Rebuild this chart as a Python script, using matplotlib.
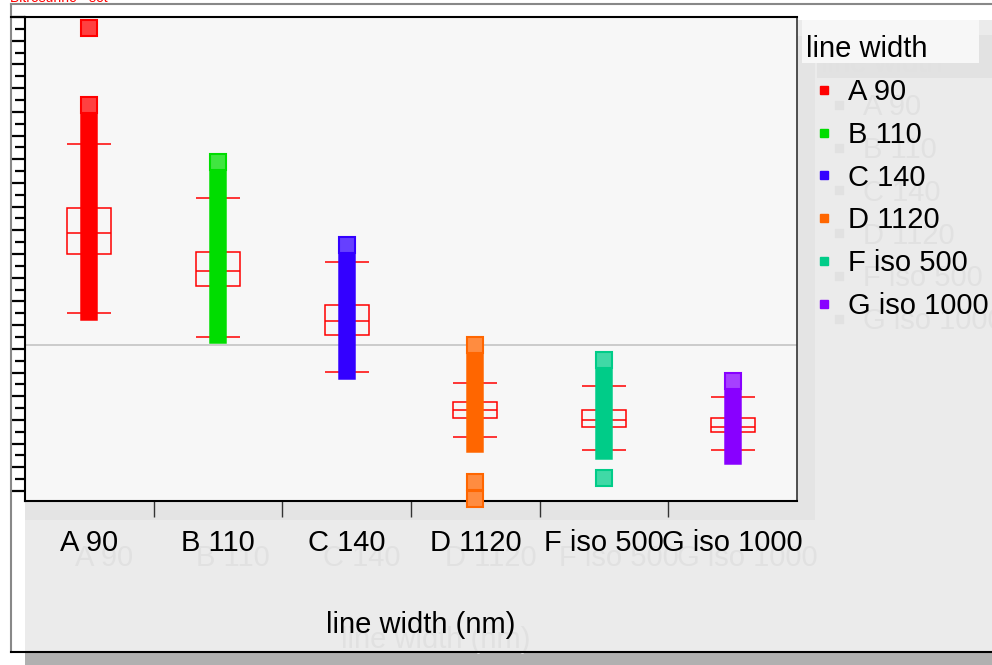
import numpy as np
import matplotlib
matplotlib.use("Agg")
import matplotlib.pyplot as plt
from matplotlib.patches import Rectangle
from matplotlib.lines import Line2D
from matplotlib.transforms import IdentityTransform
from matplotlib.colors import to_rgb

plt.rcParams['font.family'] = ['Liberation Sans', 'DejaVu Sans']

# ---------------- data ----------------
categories = ['A 90', 'B 110', 'C 140', 'D 1120', 'F iso 500', 'G iso 1000']
colors = ['#ff0000', '#00dd00', '#3300ff', '#ff6600', '#00cc88', '#8800ff']
range_lo = [7.57, 6.60, 5.08, 2.00, 1.71, 1.46]
range_hi = [16.27, 13.90, 10.36, 6.18, 5.51, 4.66]
outliers = [[19.54], [], [], [0.38, -0.34], [0.57], []]
whisker_lo = [7.51, 6.50, 5.02, 2.28, 1.73, 1.73]
whisker_hi = [14.64, 12.36, 9.66, 4.56, 4.43, 3.97]
q1 = [10.00, 8.65, 6.58, 3.08, 2.70, 2.49]
median = [10.89, 9.28, 7.17, 3.42, 3.00, 2.70]
q3 = [11.94, 10.08, 7.85, 3.76, 3.42, 3.08]
reference_level = 6.16
legend_title = 'line width'
x_label = 'line width (nm)'
top_note = 'Bitrosurine - set'

W, H = 992, 665
FS = 21
fig = plt.figure(figsize=(W / 100, H / 100), dpi=100)
fig.patch.set_facecolor('white')


def fig_rect(x0, y0, x1, y1, color, z):
    fig.add_artist(Rectangle((x0 / W, 1 - y1 / H), (x1 - x0) / W, (y1 - y0) / H,
                             transform=fig.transFigure, facecolor=color,
                             edgecolor='none', zorder=z))


def fig_line(xs, ys, color, lw, z):
    fig.add_artist(Line2D([v / W for v in xs], [1 - v / H for v in ys],
                          transform=fig.transFigure, color=color, lw=lw, zorder=z))


ghost = '#e1e1e1'

# background panels and shadows
fig_rect(25, 20, 992, 652, '#ebebeb', -5)
fig_rect(25, 36, 815, 520, '#e4e4e4', -4.5)
fig_rect(817, 35, 992, 78, '#e2e2e2', -4.5)
fig_rect(25, 653, 992, 665, '#b0b0b0', -5)
fig_rect(802, 20, 979, 63, '#f7f7f7', 4.5)

# frame lines
fig_line([11, 992], [4, 4], '#888888', 1.5, 1)
fig_line([11, 11], [4, 652], '#888888', 1.5, 1)
fig_line([11, 992], [652, 652], 'black', 1.5, 1)
fig_line([11, 25], [17, 17], 'black', 1.5, 1)

fig.text(10 / W, 1 - 2 / H, top_note, color='red', fontsize=10, va='baseline', ha='left')

# ---------------- axes ----------------
ax = fig.add_axes([25 / W, 1 - 501 / H, 772 / W, 484 / H])
ax.set_facecolor('#f7f7f7')
xpos = np.arange(len(categories))

ax.axhline(reference_level, color='#c4c4c4', lw=1.2, zorder=1)

box_w = 0.34
for i in range(len(categories)):
    ax.add_patch(Rectangle((xpos[i] - box_w / 2, q1[i]), box_w, q3[i] - q1[i],
                           fill=False, ec='red', lw=1.1, zorder=2))
    ax.hlines([whisker_lo[i], median[i], whisker_hi[i]],
              xpos[i] - box_w / 2, xpos[i] + box_w / 2, color='red', lw=1.1, zorder=2)

ax.vlines(xpos, range_lo, range_hi, colors=colors, lw=12.6,
          capstyle='projecting', zorder=3)


def lighter(c, f=0.25):
    r, g, b = to_rgb(c)
    return (r + (1 - r) * f, g + (1 - g) * f, b + (1 - b) * f)


for i, c in enumerate(colors):
    pts = [range_hi[i]] + outliers[i]
    ax.plot([xpos[i]] * len(pts), pts, ls='', marker='s', ms=11.2,
            mfc=lighter(c), mec=c, mew=1.5, zorder=4, clip_on=False)

ax.set_xlim(-0.5, 5.5)
ax.set_ylim(-0.42, 20.0)

ax.set_yticks(np.arange(0, 21))
ax.set_yticks(np.arange(0.5, 20, 1), minor=True)
ax.tick_params(axis='y', which='major', length=9.4, width=1.6, color='black', labelleft=False)
ax.tick_params(axis='y', which='minor', length=7.2, width=1.6, color='black')

ax.set_xticks(np.arange(0.5, 5, 1))
ax.set_xticks(xpos, minor=True)
ax.set_xticklabels(categories, minor=True)
ax.tick_params(axis='x', which='major', length=11.5, width=1.0, color='#333333', labelbottom=False)
ax.tick_params(axis='x', which='minor', length=0, pad=20, labelsize=FS)

for s in ['left', 'bottom', 'top']:
    ax.spines[s].set_color('black')
    ax.spines[s].set_linewidth(1.5)
ax.spines['right'].set_color('#333333')
ax.spines['right'].set_linewidth(1.2)

ax.set_xlabel(x_label, fontsize=FS)
ax.xaxis.set_label_coords((421 - 25) / 772, -0.228)

# ---------------- legend ----------------
leg_kw = dict(loc='upper left', frameon=False, fontsize=FS, title_fontsize=FS,
              alignment='left', handlelength=1.2, handletextpad=0.24,
              labelspacing=0.51, borderpad=0, borderaxespad=0)
ghost_handles = [Line2D([], [], ls='', marker='s', ms=6, color=ghost) for _ in categories]
leg_g = fig.legend(ghost_handles, categories, title=legend_title,
                   bbox_to_anchor=((806 + 15) / W, 1 - (35 + 15) / H),
                   labelcolor=ghost, **leg_kw)
leg_g.get_title().set_color(ghost)
leg_g.set_zorder(4)

handles = [Line2D([], [], ls='', marker='s', ms=6, color=c) for c in colors]
leg = fig.legend(handles, categories, title=legend_title,
                 bbox_to_anchor=(806 / W, 1 - 35 / H), **leg_kw)
leg.set_zorder(5)

# ghost copies of the axis texts
fig.canvas.draw()
renderer = fig.canvas.get_renderer()
for t in list(ax.get_xticklabels(minor=True)) + [ax.xaxis.label]:
    bb = t.get_window_extent(renderer)
    fig.text(bb.x0 + 15, bb.y0 - 15, t.get_text(), transform=IdentityTransform(),
             fontsize=FS, color=ghost, ha='left', va='bottom', zorder=-2)

fig.savefig('out.png', dpi=100)
